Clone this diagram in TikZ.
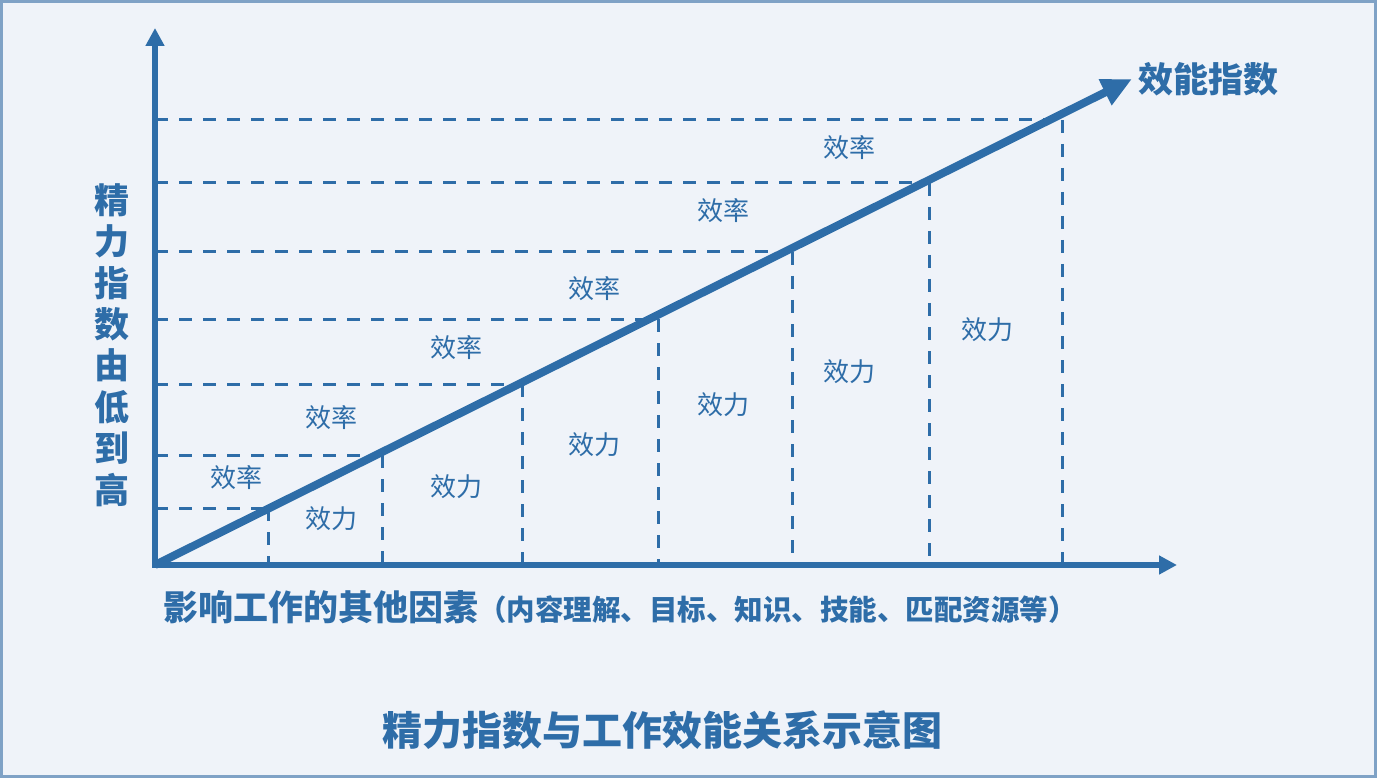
\documentclass[tikz,border=0pt]{standalone}
\usepackage{fontspec}
\setmainfont{Noto Sans CJK SC}
\usetikzlibrary{positioning,arrows.meta}
\definecolor{effblue}{RGB}{46,109,168}
\definecolor{effbg}{RGB}{239,243,249}
\definecolor{effframe}{RGB}{127,162,198}
\tikzset{
  eff axis/.style={{Triangle[length=18pt,width=18pt]}-{Triangle[length=18pt,width=18pt]},
    line width=6pt,effblue,line join=miter},
  eff index/.style={-{Triangle[length=30pt,width=27pt]},line width=8pt,effblue},
  eff grid/.style={effblue,line width=3pt,dash pattern=on 13pt off 11pt},
  eff label/.style={text=effblue,inner sep=0pt,font=\fontsize{26}{30}\selectfont},
  eff axislabel/.style={text=effblue,inner sep=0pt,font=\bfseries\fontsize{35}{41.4}\selectfont},
  eff title/.style={text=effblue,inner sep=0pt,font=\bfseries\fontsize{40}{46}\selectfont}
}
\begin{document}
\begin{tikzpicture}[x=1pt,y=-1pt]
  \useasboundingbox (0,0) rectangle (1377,778);
  \draw[effframe,line width=3pt,fill=effbg] (1.5,1.5) rectangle (1375.5,776.5);

  \coordinate (O) at (155,565);
  \coordinate (ytip) at (155,28);
  \coordinate (xtip) at (1177,565);
  \coordinate (etip) at (1132,79);

  % corners of the dashed steps under the index line
  \foreach \x/\y [count=\i] in {268/508,382/455,522/384,658/319,792/252,929/183,1062/120}
    \coordinate (p\i) at (\x,\y);
  \foreach \i in {1,...,7} {
    \draw[eff grid] (O |- p\i) -- (p\i);
    \draw[eff grid] (p\i) -- (p\i |- O);
  }

  \draw[eff axis] (ytip) -- (O) -- (xtip);
  \draw[eff index] (O) -- (etip);

  \foreach \x/\y [count=\i] in {236/478,331/418,456/348,594/289,723/211,849/148}
    \node[eff label] (rate\i) at (\x,\y) {效率};
  \foreach \x/\y [count=\i] in {331/519,456/487,594/445,723/405,849/372,987/330}
    \node[eff label] (force\i) at (\x,\y) {效力};

  \node[eff axislabel,right=6pt of etip] (eindex) {效能指数};
  \node[eff axislabel,align=center] (ylabel) at (112,345)
    {精\\力\\指\\数\\由\\低\\到\\高};
  \node[eff axislabel,anchor=west] (xlabel) at (163,607)
    {影响工作的其他因素{\fontsize{28.5}{32}\selectfont （内容理解、目标、知识、技能、匹配资源等）}};
  \node[eff title] (title) at (662,730) {精力指数与工作效能关系示意图};
\end{tikzpicture}
\end{document}
